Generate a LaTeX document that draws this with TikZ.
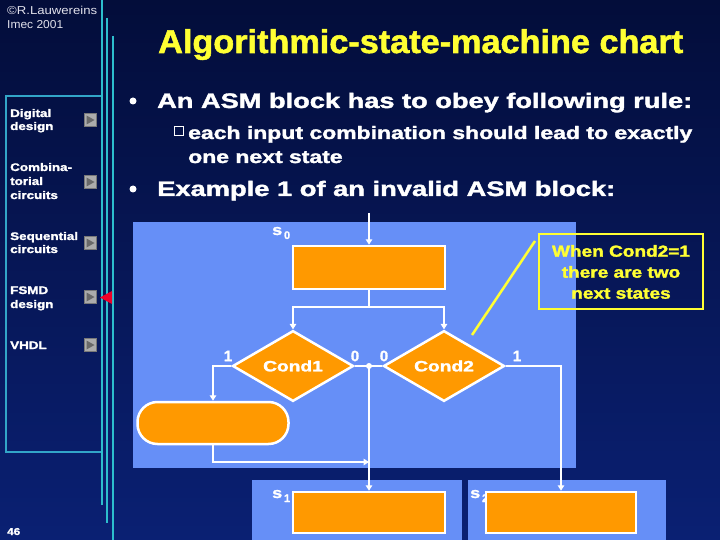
\documentclass[tikz,border=0pt]{standalone}
\usepackage{fontspec}
\usepackage{graphicx}
\setmainfont{Liberation Sans}[BoldFeatures={FakeBold=1.6}]
\usetikzlibrary{shapes.geometric,arrows.meta}
\definecolor{bgtop}{RGB}{3,13,58}
\definecolor{bgbot}{RGB}{10,32,115}
\definecolor{cyanline}{RGB}{45,190,205}
\definecolor{framecyan}{RGB}{50,165,200}
\definecolor{panelblue}{RGB}{102,143,247}
\definecolor{asmorange}{RGB}{255,153,0}
\definecolor{noteyellow}{RGB}{255,255,51}
\definecolor{btngray}{RGB}{172,172,172}
\definecolor{btndark}{RGB}{105,105,105}
\definecolor{menured}{RGB}{240,0,40}
\definecolor{copygray}{RGB}{225,225,235}
\newcommand\fsz[1]{\fontsize{#1}{#1}\selectfont}
\newcommand\fitw[2]{\resizebox{#1}{\height}{#2}}
\begin{document}
\begin{tikzpicture}[x=1pt,y=-1pt,
  wire/.style={draw=white,line width=2.2pt},
  arr/.style={wire,-{Triangle[width=6.5pt,length=5.5pt]}},
  statebox/.style={draw=white,line width=2.5pt,fill=asmorange,minimum width=150pt,minimum height=41pt,inner sep=0pt},
  cond/.style={diamond,draw=white,line width=2.5pt,fill=asmorange,minimum width=121pt,minimum height=62pt,inner sep=0pt,text=white,font=\bfseries\fsz{15}},
  oval/.style={draw=white,line width=2.5pt,fill=asmorange,minimum width=151pt,minimum height=42pt,rounded corners=20pt,inner sep=0pt},
  lbl/.style={text=white,font=\bfseries\fsz{15},inner sep=0pt},
  slbl/.style={text=white,font=\bfseries\fsz{15},inner sep=0pt,anchor=base west},
  menu/.style={text=white,font=\bfseries\fsz{11},inner sep=0pt,anchor=base west},
  bul/.style={text=white,font=\bfseries,inner sep=0pt,anchor=base west},
  btn/.style={fill=btngray,draw=btngray!70!black,line width=0.5pt}
]
\useasboundingbox (0,0) rectangle (720,540);
\shade[top color=bgtop,bottom color=bgbot] (0,0) rectangle (720,540);

% cyan vertical lines
\draw[cyanline,line width=2.5pt] (102,0) -- (102,505);
\draw[cyanline,line width=2.5pt] (107,18) -- (107,523);
\draw[cyanline,line width=2.5pt] (113,36) -- (113,540);

% left menu frame
\draw[framecyan,line width=1.2pt] (101,96) -- (6,96) -- (6,452) -- (101,452);

% copyright and page number
\node[anchor=base west,inner sep=0pt,text=copygray,font=\fsz{11.5}] (copy1) at (7,15) {\fitw{90pt}{\textcopyright R.Lauwereins}};
\node[anchor=base west,inner sep=0pt,text=copygray,font=\fsz{11.5}] (copy2) at (7,29) {\fitw{56pt}{Imec 2001}};
\node[menu,font=\bfseries\fsz{10}] (pg) at (7,535) {\fitw{13pt}{46}};

% menu entries
\node[menu] (m1a) at (10,117) {\scalebox{1.22}[1]{Digital}};
\node[menu] (m1b) at (10,130) {\scalebox{1.22}[1]{design}};
\node[menu] (m2a) at (10,171) {\scalebox{1.22}[1]{Combina-}};
\node[menu] (m2b) at (10,185) {\scalebox{1.22}[1]{torial}};
\node[menu] (m2c) at (10,199) {\scalebox{1.22}[1]{circuits}};
\node[menu] (m3a) at (10,240) {\scalebox{1.22}[1]{Sequential}};
\node[menu] (m3b) at (10,253) {\scalebox{1.22}[1]{circuits}};
\node[menu] (m4a) at (10,294) {\scalebox{1.22}[1]{FSMD}};
\node[menu] (m4b) at (10,308) {\scalebox{1.22}[1]{design}};
\node[menu] (m5a) at (10,349) {\scalebox{1.22}[1]{VHDL}};

% buttons
\foreach \yy in {120,182,243,297,345}{
  \draw[btn] (84,\yy-6.5) rectangle (96,\yy+6.5);
  \fill[btndark] (86.5,\yy-4.5) -- (94.5,\yy) -- (86.5,\yy+4.5) -- cycle;
}
\fill[menured] (100,297.5) -- (112,291) -- (112,304) -- cycle;

% title
\node[anchor=base west,inner sep=0pt,text=noteyellow,font=\bfseries\fsz{33}] (title) at (158,53) {\fitw{525pt}{Algorithmic-state-machine chart}};

% bullets
\fill[white] (133,101) circle (3.5pt);
\node[bul,font=\bfseries\fsz{21}] (b1) at (157,108) {\fitw{535pt}{An ASM block has to obey following rule:}};
\draw[white,line width=1pt] (174,127) rectangle (183,136);
\node[bul,font=\bfseries\fsz{18}] (b2) at (188,139) {\scalebox{1.276}[1]{each input combination should lead to exactly}};
\node[bul,font=\bfseries\fsz{18}] (b2b) at (188,163) {\scalebox{1.276}[1]{one next state}};
\fill[white] (133,189) circle (3.5pt);
\node[bul,font=\bfseries\fsz{21}] (b3) at (157,196) {\fitw{458pt}{Example 1 of an invalid ASM block:}};

% light blue panels
\fill[panelblue] (133,222) rectangle (576,468);
\fill[panelblue] (252,480) rectangle (462,540);
\fill[panelblue] (468,480) rectangle (666,540);

% state labels
\node[slbl] (l0) at (272,235) {\scalebox{1.2}[1]{s}\raisebox{-4pt}{\fsz{11}\,0}};
\node[slbl] (l1) at (272,498) {\scalebox{1.2}[1]{s}\raisebox{-4pt}{\fsz{11}\,1}};
\node[slbl] (l2) at (470,498) {\scalebox{1.2}[1]{s}\raisebox{-4pt}{\fsz{11}\,2}};

% ASM nodes
\node[statebox,minimum width=152pt,minimum height=43pt] (s0) at (369,267.5) {};
\node[cond] (c1) at (293,366) {\scalebox{1.28}[1]{Cond1}};
\node[cond] (c2) at (444,366) {\scalebox{1.28}[1]{Cond2}};
\node[oval] (ov) at (213,423) {};
\node[statebox,minimum width=152pt] (s1) at (369,512.5) {};
\node[statebox] (s2) at (561,512.5) {};

% connectors
\coordinate (in0) at (369,213);
\coordinate (fork) at (369,307);
\coordinate (j1) at (369,366);
\coordinate (j2) at (369,462);
\draw[arr] (in0) -- (s0.north);
\draw[wire] (s0.south) -- (fork);
\draw[wire,line cap=rect] (c1.north |- fork) -- (c2.north |- fork);
\draw[arr] (c1.north |- fork) -- (c1.north);
\draw[arr] (c2.north |- fork) -- (c2.north);
\draw[arr] (c1.west) -| (ov.north);
\draw[wire] (c1.east) -- (c2.west);
\fill[white] (j1) circle (3pt);
\draw[arr] (j1) -- (s1.north);
\draw[arr] (ov.south) |- (j2);
\draw[arr] (c2.east) -| (s2.north);

% branch labels
\node[lbl] (t1a) at (228,356) {1};
\node[lbl] (t0a) at (355,356) {0};
\node[lbl] (t0b) at (384,356) {0};
\node[lbl] (t1b) at (517,356) {1};

% callout
\node[draw=noteyellow,line width=2.5pt,minimum width=164pt,minimum height=75pt,inner sep=0pt] (note) at (621,271.5) {};
\node[text=noteyellow,font=\bfseries\fsz{16},align=center,inner sep=0pt] (notetxt) at (621,272) {\scalebox{1.19}[1]{When Cond2=1}\\[5pt]\scalebox{1.19}[1]{there are two}\\[5pt]\scalebox{1.19}[1]{next states}};
\coordinate (p1) at (535,241);
\coordinate (p2) at (472,335);
\draw[noteyellow,line width=2.5pt] (p1) -- (p2);
\end{tikzpicture}
\end{document}
